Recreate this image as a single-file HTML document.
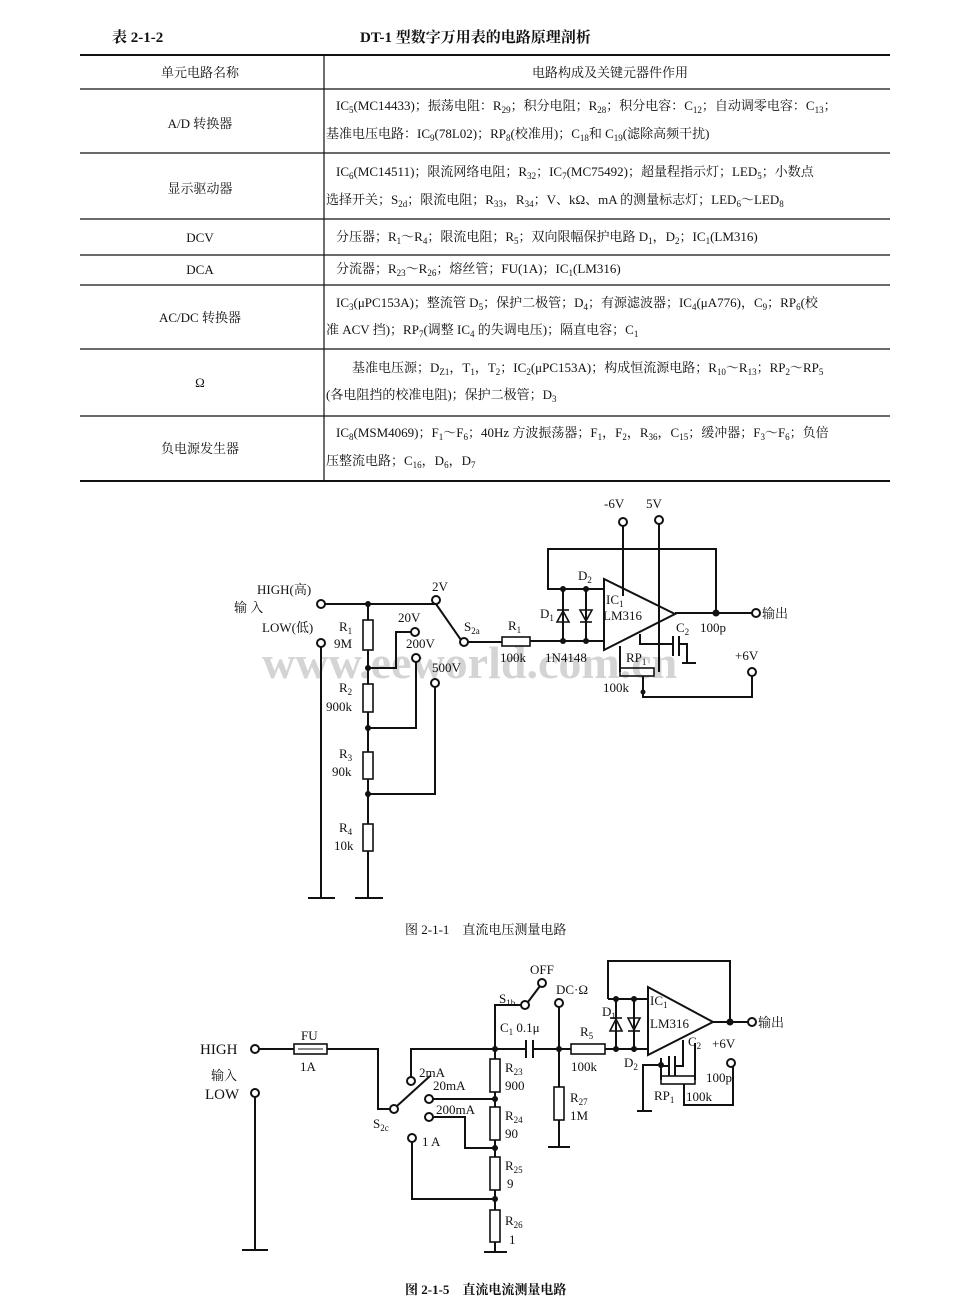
<!DOCTYPE html>
<html><head><meta charset="utf-8"><style>
html,body{margin:0;padding:0;background:#fff;}
svg{display:block;}
text{font-family:"Liberation Serif","Noto Serif CJK SC","Noto Sans CJK SC",serif;fill:#111;}
.t{font-size:13px;}
.s{font-size:9px;}
.c{font-size:13px;}
</style></head><body>
<svg width="960" height="1316" viewBox="0 0 960 1316" xmlns="http://www.w3.org/2000/svg">
<!-- Title -->
<text x="112" y="42" style="font-size:15px;font-weight:bold">表 2-1-2</text>
<text x="360" y="42" style="font-size:15px;font-weight:bold">DT-1 型数字万用表的电路原理剖析</text>
<!-- Table lines -->
<g stroke="#111" fill="none">
<line x1="80" y1="55" x2="890" y2="55" stroke-width="2"/>
<line x1="80" y1="89" x2="890" y2="89" stroke-width="1.3"/>
<line x1="80" y1="153" x2="890" y2="153" stroke-width="1.3"/>
<line x1="80" y1="219" x2="890" y2="219" stroke-width="1.3"/>
<line x1="80" y1="255" x2="890" y2="255" stroke-width="1.3"/>
<line x1="80" y1="285" x2="890" y2="285" stroke-width="1.3"/>
<line x1="80" y1="349" x2="890" y2="349" stroke-width="1.3"/>
<line x1="80" y1="416" x2="890" y2="416" stroke-width="1.3"/>
<line x1="80" y1="481" x2="890" y2="481" stroke-width="2"/>
<line x1="324" y1="55" x2="324" y2="481" stroke-width="1.2"/>
</g>
<g class="t">
<text x="200" y="77" text-anchor="middle">单元电路名称</text>
<text x="610" y="77" text-anchor="middle">电路构成及关键元器件作用</text>
<text x="200" y="128" text-anchor="middle">A/D 转换器</text>
<text x="336" y="110">IC<tspan class="s" dy="3">5</tspan><tspan dy="-3">(MC14433)；振荡电阻：R</tspan><tspan class="s" dy="3">29</tspan><tspan dy="-3">；积分电阻；R</tspan><tspan class="s" dy="3">28</tspan><tspan dy="-3">；积分电容：C</tspan><tspan class="s" dy="3">12</tspan><tspan dy="-3">；自动调零电容：C</tspan><tspan class="s" dy="3">13</tspan><tspan dy="-3">；</tspan></text>
<text x="326" y="138">基准电压电路：IC<tspan class="s" dy="3">9</tspan><tspan dy="-3">(78L02)；RP</tspan><tspan class="s" dy="3">8</tspan><tspan dy="-3">(校准用)；C</tspan><tspan class="s" dy="3">18</tspan><tspan dy="-3">和 C</tspan><tspan class="s" dy="3">19</tspan><tspan dy="-3">(滤除高频干扰)</tspan></text>
<text x="200" y="193" text-anchor="middle">显示驱动器</text>
<text x="336" y="176">IC<tspan class="s" dy="3">6</tspan><tspan dy="-3">(MC14511)；限流网络电阻；R</tspan><tspan class="s" dy="3">32</tspan><tspan dy="-3">；IC</tspan><tspan class="s" dy="3">7</tspan><tspan dy="-3">(MC75492)；超量程指示灯；LED</tspan><tspan class="s" dy="3">5</tspan><tspan dy="-3">；小数点</tspan></text>
<text x="326" y="204">选择开关；S<tspan class="s" dy="3">2d</tspan><tspan dy="-3">；限流电阻；R</tspan><tspan class="s" dy="3">33</tspan><tspan dy="-3">，R</tspan><tspan class="s" dy="3">34</tspan><tspan dy="-3">；V、kΩ、mA 的测量标志灯；LED</tspan><tspan class="s" dy="3">6</tspan><tspan dy="-3">～LED</tspan><tspan class="s" dy="3">8</tspan></text>
<text x="200" y="242" text-anchor="middle">DCV</text>
<text x="336" y="241">分压器；R<tspan class="s" dy="3">1</tspan><tspan dy="-3">～R</tspan><tspan class="s" dy="3">4</tspan><tspan dy="-3">；限流电阻；R</tspan><tspan class="s" dy="3">5</tspan><tspan dy="-3">；双向限幅保护电路 D</tspan><tspan class="s" dy="3">1</tspan><tspan dy="-3">，D</tspan><tspan class="s" dy="3">2</tspan><tspan dy="-3">；IC</tspan><tspan class="s" dy="3">1</tspan><tspan dy="-3">(LM316)</tspan></text>
<text x="200" y="274" text-anchor="middle">DCA</text>
<text x="336" y="273">分流器；R<tspan class="s" dy="3">23</tspan><tspan dy="-3">～R</tspan><tspan class="s" dy="3">26</tspan><tspan dy="-3">；熔丝管；FU(1A)；IC</tspan><tspan class="s" dy="3">1</tspan><tspan dy="-3">(LM316)</tspan></text>
<text x="200" y="322" text-anchor="middle">AC/DC 转换器</text>
<text x="336" y="307">IC<tspan class="s" dy="3">3</tspan><tspan dy="-3">(μPC153A)；整流管 D</tspan><tspan class="s" dy="3">5</tspan><tspan dy="-3">；保护二极管；D</tspan><tspan class="s" dy="3">4</tspan><tspan dy="-3">；有源滤波器；IC</tspan><tspan class="s" dy="3">4</tspan><tspan dy="-3">(μA776)，C</tspan><tspan class="s" dy="3">9</tspan><tspan dy="-3">；RP</tspan><tspan class="s" dy="3">6</tspan><tspan dy="-3">(校</tspan></text>
<text x="326" y="334">准 ACV 挡)；RP<tspan class="s" dy="3">7</tspan><tspan dy="-3">(调整 IC</tspan><tspan class="s" dy="3">4</tspan><tspan dy="-3"> 的失调电压)；隔直电容；C</tspan><tspan class="s" dy="3">1</tspan></text>
<text x="200" y="387" text-anchor="middle">Ω</text>
<text x="352" y="372">基准电压源；D<tspan class="s" dy="3">Z1</tspan><tspan dy="-3">，T</tspan><tspan class="s" dy="3">1</tspan><tspan dy="-3">，T</tspan><tspan class="s" dy="3">2</tspan><tspan dy="-3">；IC</tspan><tspan class="s" dy="3">2</tspan><tspan dy="-3">(μPC153A)；构成恒流源电路；R</tspan><tspan class="s" dy="3">10</tspan><tspan dy="-3">～R</tspan><tspan class="s" dy="3">13</tspan><tspan dy="-3">；RP</tspan><tspan class="s" dy="3">2</tspan><tspan dy="-3">～RP</tspan><tspan class="s" dy="3">5</tspan></text>
<text x="326" y="399">(各电阻挡的校准电阻)；保护二极管；D<tspan class="s" dy="3">3</tspan></text>
<text x="200" y="453" text-anchor="middle">负电源发生器</text>
<text x="336" y="437">IC<tspan class="s" dy="3">8</tspan><tspan dy="-3">(MSM4069)；F</tspan><tspan class="s" dy="3">1</tspan><tspan dy="-3">～F</tspan><tspan class="s" dy="3">6</tspan><tspan dy="-3">；40Hz 方波振荡器；F</tspan><tspan class="s" dy="3">1</tspan><tspan dy="-3">，F</tspan><tspan class="s" dy="3">2</tspan><tspan dy="-3">，R</tspan><tspan class="s" dy="3">36</tspan><tspan dy="-3">，C</tspan><tspan class="s" dy="3">15</tspan><tspan dy="-3">；缓冲器；F</tspan><tspan class="s" dy="3">3</tspan><tspan dy="-3">～F</tspan><tspan class="s" dy="3">6</tspan><tspan dy="-3">；负倍</tspan></text>
<text x="326" y="465">压整流电路；C<tspan class="s" dy="3">16</tspan><tspan dy="-3">，D</tspan><tspan class="s" dy="3">6</tspan><tspan dy="-3">，D</tspan><tspan class="s" dy="3">7</tspan></text>
</g>

<!-- watermark -->
<text x="262" y="678" style="font-size:46px;font-weight:bold;fill:#d4d4d4;font-family:'Liberation Serif',serif">www.eeworld.com.cn</text>

<!-- Circuit 1 -->
<g stroke="#111" stroke-width="2" fill="none">
<!-- HIGH line -->
<line x1="325" y1="604" x2="436" y2="604"/>
<line x1="436" y1="604" x2="461" y2="640"/>
<line x1="468" y1="642" x2="502" y2="642"/>
<rect x="502" y="637" width="28" height="9" stroke-width="1.6"/>
<line x1="530" y1="641" x2="604" y2="641"/>
<!-- divider -->
<line x1="368" y1="604" x2="368" y2="620"/>
<rect x="363" y="620" width="10" height="30" stroke-width="1.6"/>
<line x1="368" y1="650" x2="368" y2="684"/>
<rect x="363" y="684" width="10" height="28" stroke-width="1.6"/>
<line x1="368" y1="712" x2="368" y2="752"/>
<rect x="363" y="752" width="10" height="27" stroke-width="1.6"/>
<line x1="368" y1="779" x2="368" y2="824"/>
<rect x="363" y="824" width="10" height="27" stroke-width="1.6"/>
<line x1="368" y1="851" x2="368" y2="898"/>
<line x1="355" y1="898" x2="383" y2="898"/>
<!-- LOW -->
<line x1="321" y1="647" x2="321" y2="898"/>
<line x1="308" y1="898" x2="335" y2="898"/>
<!-- taps -->
<polyline points="368,668 396,668 396,632 411,632"/>
<polyline points="368,728 416,728 416,662"/>
<polyline points="368,794 435,794 435,687"/>
<!-- feedback -->
<polyline points="563,589 548,589 548,549 716,549 716,613"/>
<line x1="548" y1="589" x2="604" y2="589"/>
<line x1="563" y1="589" x2="563" y2="641"/>
<line x1="586" y1="589" x2="586" y2="641"/>
<!-- opamp -->
<polygon points="604,579 604,650 675,614"/>
<line x1="675" y1="613" x2="752" y2="613"/>
<line x1="623" y1="526" x2="623" y2="596"/>
<line x1="659" y1="524" x2="659" y2="672"/>
<!-- RP, C2 -->
<rect x="620" y="668" width="34" height="8" stroke-width="1.6"/>
<line x1="620" y1="672" x2="620" y2="646"/>
<polyline points="640,634 640,644 673,644"/>
<line x1="673" y1="636" x2="673" y2="656"/>
<line x1="679" y1="636" x2="679" y2="656"/>
<polyline points="679,644 687,644 687,663"/>
<line x1="682" y1="663" x2="696" y2="663"/>
<polyline points="643,676 643,697 752,697 752,676"/>
</g>
<!-- diodes c1 -->
<g stroke="#111" stroke-width="1.6" fill="none">
<polygon points="557,622 569,622 563,611"/><line x1="557" y1="610" x2="569" y2="610"/>
<polygon points="580,610 592,610 586,621"/><line x1="580" y1="622" x2="592" y2="622"/>
</g>
<g fill="#111">
<circle cx="368" cy="604" r="3"/><circle cx="368" cy="668" r="3"/><circle cx="368" cy="728" r="3"/><circle cx="368" cy="794" r="3"/>
<circle cx="563" cy="589" r="3"/><circle cx="586" cy="589" r="3"/><circle cx="563" cy="641" r="3"/><circle cx="586" cy="641" r="3"/>
<circle cx="716" cy="613" r="3.5"/><circle cx="643" cy="692" r="2.5"/>
</g>
<g fill="#fff" stroke="#111" stroke-width="2">
<circle cx="321" cy="604" r="4"/><circle cx="321" cy="643" r="4"/><circle cx="436" cy="600" r="4"/>
<circle cx="464" cy="642" r="4"/><circle cx="415" cy="632" r="4"/><circle cx="416" cy="658" r="4"/><circle cx="435" cy="683" r="4"/>
<circle cx="623" cy="522" r="4"/><circle cx="659" cy="520" r="4"/><circle cx="756" cy="613" r="4"/><circle cx="752" cy="672" r="4"/>
</g>
<g class="c">
<text x="257" y="594">HIGH(高)</text>
<text x="234" y="612">输 入</text>
<text x="262" y="632">LOW(低)</text>
<text x="339" y="631">R<tspan class="s" dy="3">1</tspan></text>
<text x="334" y="648">9M</text>
<text x="339" y="692">R<tspan class="s" dy="3">2</tspan></text>
<text x="326" y="711">900k</text>
<text x="339" y="758">R<tspan class="s" dy="3">3</tspan></text>
<text x="332" y="776">90k</text>
<text x="339" y="832">R<tspan class="s" dy="3">4</tspan></text>
<text x="334" y="850">10k</text>
<text x="432" y="591">2V</text>
<text x="398" y="622">20V</text>
<text x="406" y="648">200V</text>
<text x="432" y="672">500V</text>
<text x="464" y="631">S<tspan class="s" dy="3">2a</tspan></text>
<text x="508" y="630">R<tspan class="s" dy="3">1</tspan></text>
<text x="500" y="662">100k</text>
<text x="540" y="618">D<tspan class="s" dy="3">1</tspan></text>
<text x="578" y="580">D<tspan class="s" dy="3">2</tspan></text>
<text x="545" y="662">1N4148</text>
<text x="606" y="604">IC<tspan class="s" dy="3">1</tspan></text>
<text x="603" y="620">LM316</text>
<text x="604" y="508">-6V</text>
<text x="646" y="508">5V</text>
<text x="676" y="632">C<tspan class="s" dy="3">2</tspan></text>
<text x="700" y="632">100p</text>
<text x="626" y="662">RP<tspan class="s" dy="3">1</tspan></text>
<text x="603" y="692">100k</text>
<text x="735" y="660">+6V</text>
<text x="762" y="618">输出</text>
<text x="405" y="934">图 2-1-1　直流电压测量电路</text>
</g>

<!-- Circuit 2 -->
<g stroke="#111" stroke-width="2" fill="none">
<line x1="259" y1="1049" x2="294" y2="1049"/>
<rect x="294" y="1044" width="33" height="10" stroke-width="1.6"/>
<line x1="298" y1="1049" x2="323" y2="1049" stroke-width="1"/>
<polyline points="327,1049 378,1049 378,1109 390,1109"/>
<line x1="397" y1="1106" x2="430" y2="1076"/>
<polyline points="411,1077 411,1049 526,1049"/>
<line x1="526" y1="1040" x2="526" y2="1058"/>
<line x1="533" y1="1040" x2="533" y2="1058"/>
<line x1="533" y1="1049" x2="571" y2="1049"/>
<rect x="571" y="1044" width="34" height="10" stroke-width="1.6"/>
<line x1="605" y1="1049" x2="648" y2="1049"/>
<polyline points="495,1049 495,1005 521,1005"/>
<line x1="528" y1="1002" x2="540" y2="986"/>
<line x1="559" y1="1007" x2="559" y2="1087"/>
<rect x="554" y="1087" width="10" height="33" stroke-width="1.6"/>
<line x1="559" y1="1120" x2="559" y2="1147"/>
<line x1="548" y1="1147" x2="570" y2="1147"/>
<line x1="495" y1="1049" x2="495" y2="1059"/>
<rect x="490" y="1059" width="10" height="33" stroke-width="1.6"/>
<line x1="495" y1="1092" x2="495" y2="1107"/>
<rect x="490" y="1107" width="10" height="33" stroke-width="1.6"/>
<line x1="495" y1="1140" x2="495" y2="1157"/>
<rect x="490" y="1157" width="10" height="33" stroke-width="1.6"/>
<line x1="495" y1="1190" x2="495" y2="1210"/>
<rect x="490" y="1210" width="10" height="32" stroke-width="1.6"/>
<line x1="495" y1="1242" x2="495" y2="1252"/>
<line x1="484" y1="1252" x2="507" y2="1252"/>
<line x1="433" y1="1099" x2="495" y2="1099"/>
<polyline points="433,1117 465,1117 465,1148 495,1148"/>
<polyline points="412,1142 412,1199 495,1199"/>
<line x1="255" y1="1097" x2="255" y2="1250"/>
<line x1="242" y1="1250" x2="268" y2="1250"/>
<!-- opamp -->
<polyline points="608,999 608,961 730,961 730,1022"/>
<line x1="608" y1="999" x2="648" y2="999"/>
<line x1="616" y1="999" x2="616" y2="1049"/>
<line x1="634" y1="999" x2="634" y2="1049"/>
<polygon points="648,987 648,1055 713,1022"/>
<line x1="713" y1="1022" x2="748" y2="1022"/>
<polyline points="643,1111 643,1065 661,1065"/>
<line x1="637" y1="1111" x2="652" y2="1111"/>
<line x1="661" y1="1058" x2="661" y2="1080"/>
<line x1="669" y1="1056" x2="669" y2="1076"/>
<line x1="675" y1="1056" x2="675" y2="1076"/>
<polyline points="669,1066 661,1066"/>
<polyline points="675,1066 683,1066 683,1040"/>
<rect x="661" y="1076" width="34" height="8" stroke-width="1.6"/>
<polyline points="695,1080 695,1043"/>
<polyline points="684,1084 684,1105 733,1105 733,1067"/>
</g>
<g stroke="#111" stroke-width="1.6" fill="none">
<polygon points="610,1031 622,1031 616,1019"/><line x1="610" y1="1018" x2="622" y2="1018"/>
<polygon points="628,1018 640,1018 634,1030"/><line x1="628" y1="1031" x2="640" y2="1031"/>
</g>
<g fill="#111">
<circle cx="495" cy="1049" r="3"/><circle cx="559" cy="1049" r="3"/><circle cx="616" cy="1049" r="3"/><circle cx="634" cy="1049" r="3"/>
<circle cx="616" cy="999" r="3"/><circle cx="634" cy="999" r="3"/><circle cx="730" cy="1022" r="3.5"/>
<circle cx="495" cy="1099" r="3"/><circle cx="495" cy="1148" r="3"/><circle cx="495" cy="1199" r="3"/><circle cx="661" cy="1065" r="3"/>
</g>
<g fill="#fff" stroke="#111" stroke-width="2">
<circle cx="255" cy="1049" r="4"/><circle cx="255" cy="1093" r="4"/><circle cx="394" cy="1109" r="4"/><circle cx="411" cy="1081" r="4"/>
<circle cx="429" cy="1099" r="4"/><circle cx="429" cy="1117" r="4"/><circle cx="412" cy="1138" r="4"/>
<circle cx="525" cy="1005" r="4"/><circle cx="542" cy="983" r="4"/><circle cx="559" cy="1003" r="4"/>
<circle cx="752" cy="1022" r="4"/><circle cx="731" cy="1063" r="4"/>
</g>
<g class="c">
<text x="200" y="1054" style="font-size:15px">HIGH</text>
<text x="211" y="1080">输入</text>
<text x="205" y="1099" style="font-size:15px">LOW</text>
<text x="301" y="1040">FU</text>
<text x="300" y="1071">1A</text>
<text x="419" y="1077">2mA</text>
<text x="433" y="1090">20mA</text>
<text x="436" y="1114">200mA</text>
<text x="422" y="1146">1 A</text>
<text x="373" y="1128">S<tspan class="s" dy="3">2c</tspan></text>
<text x="499" y="1003">S<tspan class="s" dy="3">1b</tspan></text>
<text x="530" y="974">OFF</text>
<text x="556" y="994">DC·Ω</text>
<text x="500" y="1032">C<tspan class="s" dy="3">1</tspan><tspan dy="-3"> 0.1μ</tspan></text>
<text x="580" y="1036">R<tspan class="s" dy="3">5</tspan></text>
<text x="571" y="1071">100k</text>
<text x="602" y="1016">D<tspan class="s" dy="3">1</tspan></text>
<text x="624" y="1067">D<tspan class="s" dy="3">2</tspan></text>
<text x="650" y="1005">IC<tspan class="s" dy="3">1</tspan></text>
<text x="650" y="1028">LM316</text>
<text x="688" y="1046">C<tspan class="s" dy="3">2</tspan></text>
<text x="712" y="1048">+6V</text>
<text x="706" y="1082">100p</text>
<text x="654" y="1100">RP<tspan class="s" dy="3">1</tspan></text>
<text x="686" y="1101">100k</text>
<text x="758" y="1027">输出</text>
<text x="505" y="1072">R<tspan class="s" dy="3">23</tspan></text>
<text x="505" y="1090">900</text>
<text x="505" y="1120">R<tspan class="s" dy="3">24</tspan></text>
<text x="505" y="1138">90</text>
<text x="505" y="1170">R<tspan class="s" dy="3">25</tspan></text>
<text x="507" y="1188">9</text>
<text x="505" y="1225">R<tspan class="s" dy="3">26</tspan></text>
<text x="509" y="1244">1</text>
<text x="570" y="1102">R<tspan class="s" dy="3">27</tspan></text>
<text x="570" y="1120">1M</text>
<text x="405" y="1294" style="font-weight:bold">图 2-1-5　直流电流测量电路</text>
</g>
</svg>
</body></html>
